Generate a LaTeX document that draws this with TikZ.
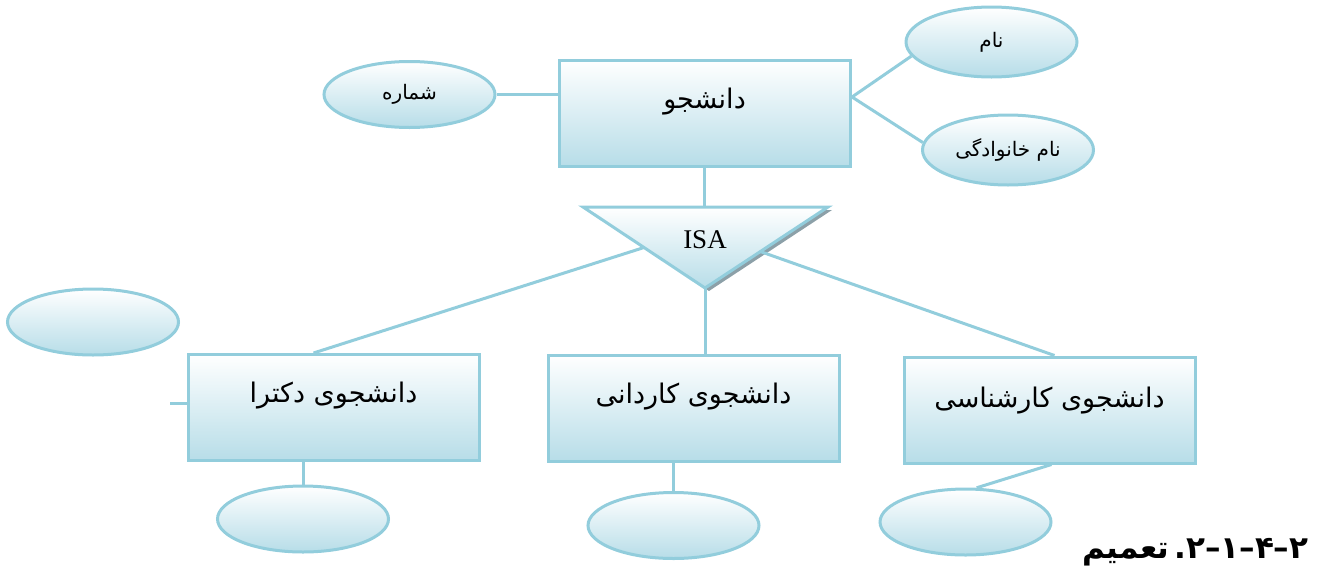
\documentclass[tikz,border=0pt]{standalone}
\usepackage{fontspec}
\setmainfont{Liberation Serif}
\newfontfamily\fa[Script=Arabic]{DejaVu Sans}
\TeXXeTstate=1
\usetikzlibrary{shapes.geometric,calc}
\definecolor{erline}{RGB}{146,205,220}
\definecolor{erfill}{RGB}{183,221,232}
\definecolor{isashadow}{RGB}{140,160,168}
\tikzset{
  entity/.style={draw=erline, line width=3pt, top color=white, bottom color=erfill,
    minimum width=291pt, inner sep=0pt, text height=48pt, text depth=58pt,
    font=\fa\fontsize{27}{32}\selectfont},
  attr/.style={ellipse, draw=erline, line width=3pt, top color=white, bottom color=erfill,
    minimum width=171pt, minimum height=66pt, inner sep=0pt,
    font=\fa\fontsize{20}{24}\selectfont},
  link/.style={draw=erline, line width=3pt},
}
\begin{document}
\begin{tikzpicture}[x=1pt,y=-1pt]
\useasboundingbox (0,0) rectangle (1322,576);
%--- Entities ---
\node[entity] (stu) at (704.5,113) {\beginR دانشجو\endR};
\node[entity] (dokt) at (333.5,407.5) {\beginR دانشجوی دکترا\endR};
\node[entity] (kard) at (693.5,408) {\beginR دانشجوی کاردانی\endR};
\node[entity, text height=50pt, text depth=56pt] (karsh) at (1049.5,410) {\beginR دانشجوی کارشناسی\endR};
%--- Attributes ---
\node[attr] (num) at (409.5,94.5) {\beginR شماره\endR};
\node[attr, minimum height=70pt] (name) at (991.5,42) {\beginR نام\endR};
\node[attr, minimum height=70pt] (fam) at (1008,150) {\beginR نام خانوادگی\endR};
\node[attr] (loose) at (93,322) {};
\node[attr] (dattr) at (303,519) {};
\node[attr] (kattr) at (673.5,525.5) {};
\node[attr] (sattr) at (965.5,522) {};
%--- ISA triangle, with shadow ---
\coordinate (isaL) at (583,207);
\coordinate (isaR) at (828,207);
\coordinate (isaB) at (705,288);
\fill[isashadow] ($(isaL)+(4,3)$) -- ($(isaR)+(4,3)$) -- ($(isaB)+(4,3)$) -- cycle;
\draw[link, top color=white, bottom color=erfill] (isaL) -- (isaR) -- (isaB) -- cycle;
\node[font=\fontsize{27}{30}\selectfont] (isa) at (705,240) {ISA};
%--- Links ---
\draw[link] (stu.south) -- (stu.south |- isaL);
\draw[link] ($(isaL)!0.5!(isaB)$) -- ([xshift=-20pt]dokt.north);
\draw[link] (isaB) -- (isaB |- kard.north);
\draw[link] ($(isaR)!0.55!(isaB)$) -- ([xshift=5pt]karsh.north);
\draw[link] (num.east) -- (num.east -| stu.west);
\coordinate (stuR) at (852,97);
\draw[link] (name.190) -- (stuR) -- (fam.175);
\draw[link] (dokt.south -| dattr.north) -- (dattr.north);
\draw[link] (kard.south -| kattr.north) -- (kattr.north);
\draw[link] ([xshift=2pt]karsh.south) -- (sattr.72);
\coordinate (dstub) at (170,403);
\draw[link] (dstub) -- (dstub -| dokt.west);
%--- Caption ---
\node[font=\fa\bfseries\fontsize{31}{36}\selectfont, anchor=east] (title) at (1312,552)
  {\beginR\beginL\hbox{۲}\hbox{–}\hbox{۱}\hbox{–}\hbox{۴}\hbox{–}\hbox{۲}\endL.\hspace{5pt}تعمیم\endR};
\end{tikzpicture}
\end{document}
